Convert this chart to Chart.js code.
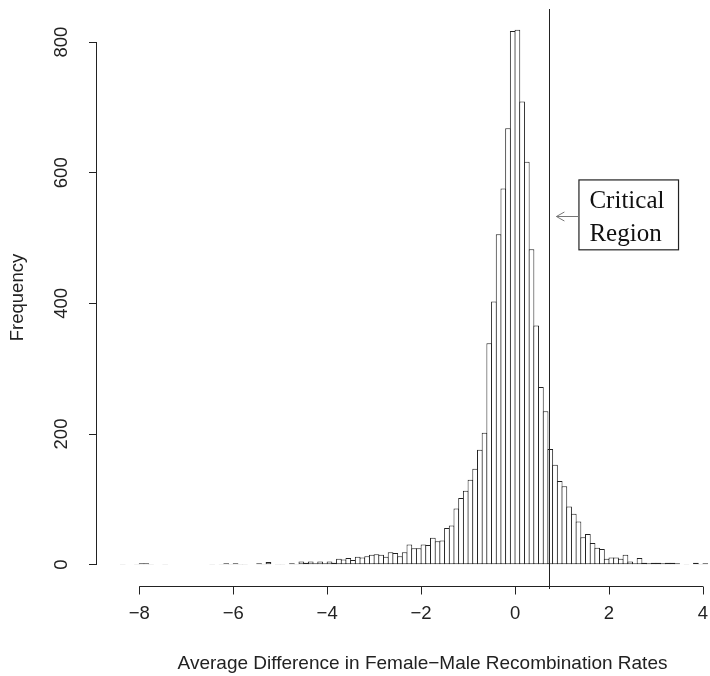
<!DOCTYPE html>
<html>
<head>
<meta charset="utf-8">
<script src="https://cdn.jsdelivr.net/npm/chart.js@4.4.0/dist/chart.umd.min.js"></script>
<style>
html,body{margin:0;padding:0;background:#fff;overflow:hidden}
#wrap{width:710px;height:676px;position:relative}
</style>
</head>
<body>
<div id="wrap"><canvas id="hist"></canvas></div>
<script>
// histogram bins (width 0.1, first bin starts at -8.4)
binStart = -8.4;
binWidth = 0.1;
counts = [
  1,0,0,1,2,2,1,0,0,1,
  0,0,0,0,0,0,0,0,0,1,
  0,1,2,1,2,1,1,0,0,2,
  1,4,0,1,1,0,2,1,5,3,
  5,2,5,2,5,3,9,8,10,7,
  12,11,13,15,16,15,12,19,18,13,
  19,31,25,25,31,30,41,36,37,56,
  60,86,102,113,130,147,176,202,339,403,
  506,576,668,817,819,709,617,483,366,272,
  235,177,153,128,120,89,78,66,42,47,
  33,26,24,9,11,11,9,15,5,2,
  10,3,2,3,3,2,3,3,2,0,
  1,0,3,1,2
];
xTicks = [-8,-6,-4,-2,0,2,4];
yTicks = [0,200,400,600,800];
criticalValue = 0.73;
noteLines = ["Critical","Region"];
xTitle = "Average Difference in Female\u2212Male Recombination Rates";
yTitle = "Frequency";

points = [];
for (var i = 0; i < counts.length; i++) {
  points.push({x: binStart + (i + 0.5) * binWidth, y: counts[i]});
}

var ink = '#222';
var txt = '#222';
var sans = "'Liberation Sans', Arial, sans-serif";

// R style detached axis lines, x title, the critical value line and the note box
var extras = {
  id: 'extras',
  afterDatasetsDraw(chart) {
    var ctx = chart.ctx, xs = chart.scales.x, ys = chart.scales.y, area = chart.chartArea;
    ctx.save();
    ctx.strokeStyle = ink;
    ctx.lineWidth = 1;
    var yb = Math.round(area.bottom) + 0.5;
    var xl = Math.round(area.left) - 0.5;
    ctx.beginPath();
    ctx.moveTo(xs.getPixelForValue(xTicks[0]), yb);
    ctx.lineTo(xs.getPixelForValue(xTicks[xTicks.length - 1]), yb);
    ctx.moveTo(xl, ys.getPixelForValue(yTicks[0]));
    ctx.lineTo(xl, ys.getPixelForValue(yTicks[yTicks.length - 1]));
    xTicks.forEach(function(v) {
      var px = Math.round(xs.getPixelForValue(v)) + 0.5;
      ctx.moveTo(px, yb);
      ctx.lineTo(px, yb + 8);
    });
    ctx.stroke();

    var cx = Math.round(xs.getPixelForValue(criticalValue)) + 0.5;
    ctx.beginPath();
    ctx.moveTo(cx, area.top);
    ctx.lineTo(cx, area.bottom + 3);
    ctx.stroke();

    // x axis title, centred on the full R plot region (which runs past the crop)
    ctx.fillStyle = txt;
    ctx.font = "19px " + sans;
    ctx.textAlign = 'center';
    ctx.textBaseline = 'middle';
    ctx.fillText(xTitle, xs.getPixelForValue(-1.97), xs.bottom - 12);

    // note box, placed in data units
    var bx0 = xs.getPixelForValue(1.36), bx1 = xs.getPixelForValue(3.48);
    var by0 = ys.getPixelForValue(589), by1 = ys.getPixelForValue(482);
    ctx.fillStyle = '#fff';
    ctx.fillRect(bx0, by0, bx1 - bx0, by1 - by0);
    ctx.lineWidth = 1.2;
    ctx.strokeRect(bx0, by0, bx1 - bx0, by1 - by0);

    // arrow pointing at the line
    var ay = ys.getPixelForValue(533);
    var tip = xs.getPixelForValue(0.88);
    ctx.strokeStyle = '#777';
    ctx.lineWidth = 1;
    ctx.beginPath();
    ctx.moveTo(bx0, ay);
    ctx.lineTo(tip, ay);
    ctx.moveTo(tip + 8, ay - 4.5);
    ctx.lineTo(tip, ay);
    ctx.lineTo(tip + 8, ay + 4.5);
    ctx.stroke();

    ctx.fillStyle = '#111';
    ctx.font = "25px 'Liberation Serif', 'Times New Roman', serif";
    ctx.textAlign = 'left';
    ctx.textBaseline = 'alphabetic';
    ctx.fillText(noteLines[0], bx0 + 10.5, by0 + 28);
    ctx.fillText(noteLines[1], bx0 + 10.5, by0 + 61);
    ctx.restore();
  }
};

new Chart(document.getElementById('hist'), {
  type: 'bar',
  data: {
    datasets: [{
      label: yTitle,
      data: points,
      backgroundColor: '#fff',
      borderColor: ink,
      borderWidth: 1,
      borderSkipped: false,
      barPercentage: 1.21,
      categoryPercentage: 1
    }]
  },
  options: {
    responsive: true,
    maintainAspectRatio: false,
    devicePixelRatio: 1,
    animation: false,
    layout: { padding: { top: 9, right: 0, bottom: 0, left: 0 } },
    plugins: { legend: { display: false }, tooltip: { enabled: false } },
    scales: {
      x: {
        type: 'linear',
        min: -8.9,
        max: 4.15,
        offset: false,
        afterFit: function(s) { s.height = 90; s.paddingLeft = 0; s.paddingRight = 0; },
        afterBuildTicks: function(s) { s.ticks = xTicks.map(function(v) { return {value: v}; }); },
        border: { display: false },
        grid: { display: false, drawTicks: true, tickLength: 8 },
        ticks: {
          padding: 9,
          color: txt,
          maxRotation: 0,
          autoSkip: false,
          font: { family: sans, size: 18.5 },
          callback: function(v) { return String(v).replace('-', '\u2212'); }
        },
        title: { display: false, text: xTitle }
      },
      y: {
        min: -32.7,
        max: 850.7,
        afterFit: function(s) { s.width = 97; s.paddingTop = 0; s.paddingBottom = 0; },
        afterBuildTicks: function(s) { s.ticks = yTicks.map(function(v) { return {value: v}; }); },
        border: { display: false },
        grid: { display: true, drawOnChartArea: false, drawTicks: true, tickLength: 8, color: ink },
        ticks: {
          padding: 11.6,
          color: txt,
          crossAlign: 'center',
          minRotation: 90,
          maxRotation: 90,
          autoSkip: false,
          font: { family: sans, size: 18.5 }
        },
        title: {
          display: true,
          text: yTitle,
          color: txt,
          font: { family: sans, size: 18.5 },
          padding: { top: 7, bottom: 0 }
        }
      }
    }
  },
  plugins: [extras]
});
</script>
</body>
</html>
